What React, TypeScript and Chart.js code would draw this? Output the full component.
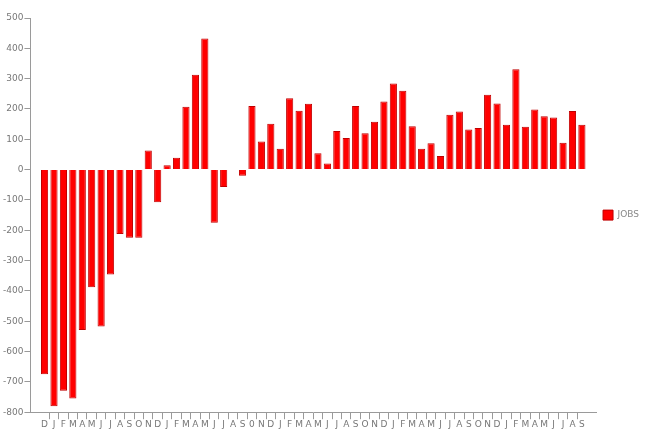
import React, { useEffect, useRef } from "react";
import { Chart, registerables } from "chart.js";

Chart.register(...registerables);

const months: string[] = [
  "D",
  "J", "F", "M", "A", "M", "J", "J", "A", "S", "O", "N", "D",
  "J", "F", "M", "A", "M", "J", "J", "A", "S", "0", "N", "D",
  "J", "F", "M", "A", "M", "J", "J", "A", "S", "O", "N", "D",
  "J", "F", "M", "A", "M", "J", "J", "A", "S", "O", "N", "D",
  "J", "F", "M", "A", "M", "J", "J", "A", "S",
];

const jobs: number[] = [
  -675, -780, -729, -755, -529, -388, -517, -346, -212, -225, -225, 63, -108,
  14, 39, 207, 313, 432, -175, -57, -1, -20, 210, 93, 151,
  69, 235, 194, 217, 54, 20, 127, 104, 210, 120, 158, 225,
  284, 260, 143, 69, 87, 45, 181, 192, 132, 137, 247, 218,
  148, 331, 141, 198, 176, 172, 89, 193, 148,
];

const yMin = -800;
const yMax = 500;
const yStep = 100;

export default function App() {
  const ref = useRef<HTMLCanvasElement | null>(null);

  useEffect(() => {
    if (!ref.current) return;
    const labels = ["", ...months, ""];
    const data = [null, ...jobs, null];
    const gray = "#9a9a9a";
    const font = { family: "'DejaVu Sans', Verdana, sans-serif", size: 9 };
    const lastBoundary = months.length;
    const chart = new Chart(ref.current, {
      type: "bar",
      data: {
        labels,
        datasets: [
          {
            label: "JOBS",
            data,
            backgroundColor: "#ff0000",
            borderColor: "#c00000",
            borderWidth: 1,
            categoryPercentage: 1,
            barPercentage: 0.76,
          },
        ],
      },
      options: {
        animation: false,
        responsive: true,
        maintainAspectRatio: false,
        layout: { padding: { top: 18, left: 2, right: 1, bottom: 13 } },
        plugins: {
          tooltip: { enabled: false },
          legend: {
            position: "right",
            align: "center",
            fullSize: false,
            labels: {
              boxWidth: 10,
              boxHeight: 10,
              padding: 7,
              color: "#888",
              font,
            },
          },
        },
        scales: {
          x: {
            grid: {
              display: true,
              offset: true,
              drawOnChartArea: false,
              drawTicks: true,
              tickLength: 7,
              color: (ctx: any) =>
                ctx.index >= 2 && ctx.index <= lastBoundary ? gray : "rgba(0,0,0,0)",
            },
            border: { display: true, color: gray },
            ticks: {
              color: "#777",
              font,
              maxRotation: 0,
              autoSkip: false,
              padding: 0,
            },
          },
          y: {
            min: yMin,
            max: yMax,
            grid: {
              display: true,
              drawOnChartArea: false,
              drawTicks: true,
              tickLength: 6,
              color: gray,
            },
            border: { display: true, color: gray },
            ticks: {
              stepSize: yStep,
              color: "#777",
              font,
              padding: 1,
            },
          },
        },
      },
    });
    return () => chart.destroy();
  }, []);

  return (
    <div style={{ position: "fixed", left: 0, top: 0, width: 650, height: 443, background: "#fff" }}>
      <canvas ref={ref} />
    </div>
  );
}
